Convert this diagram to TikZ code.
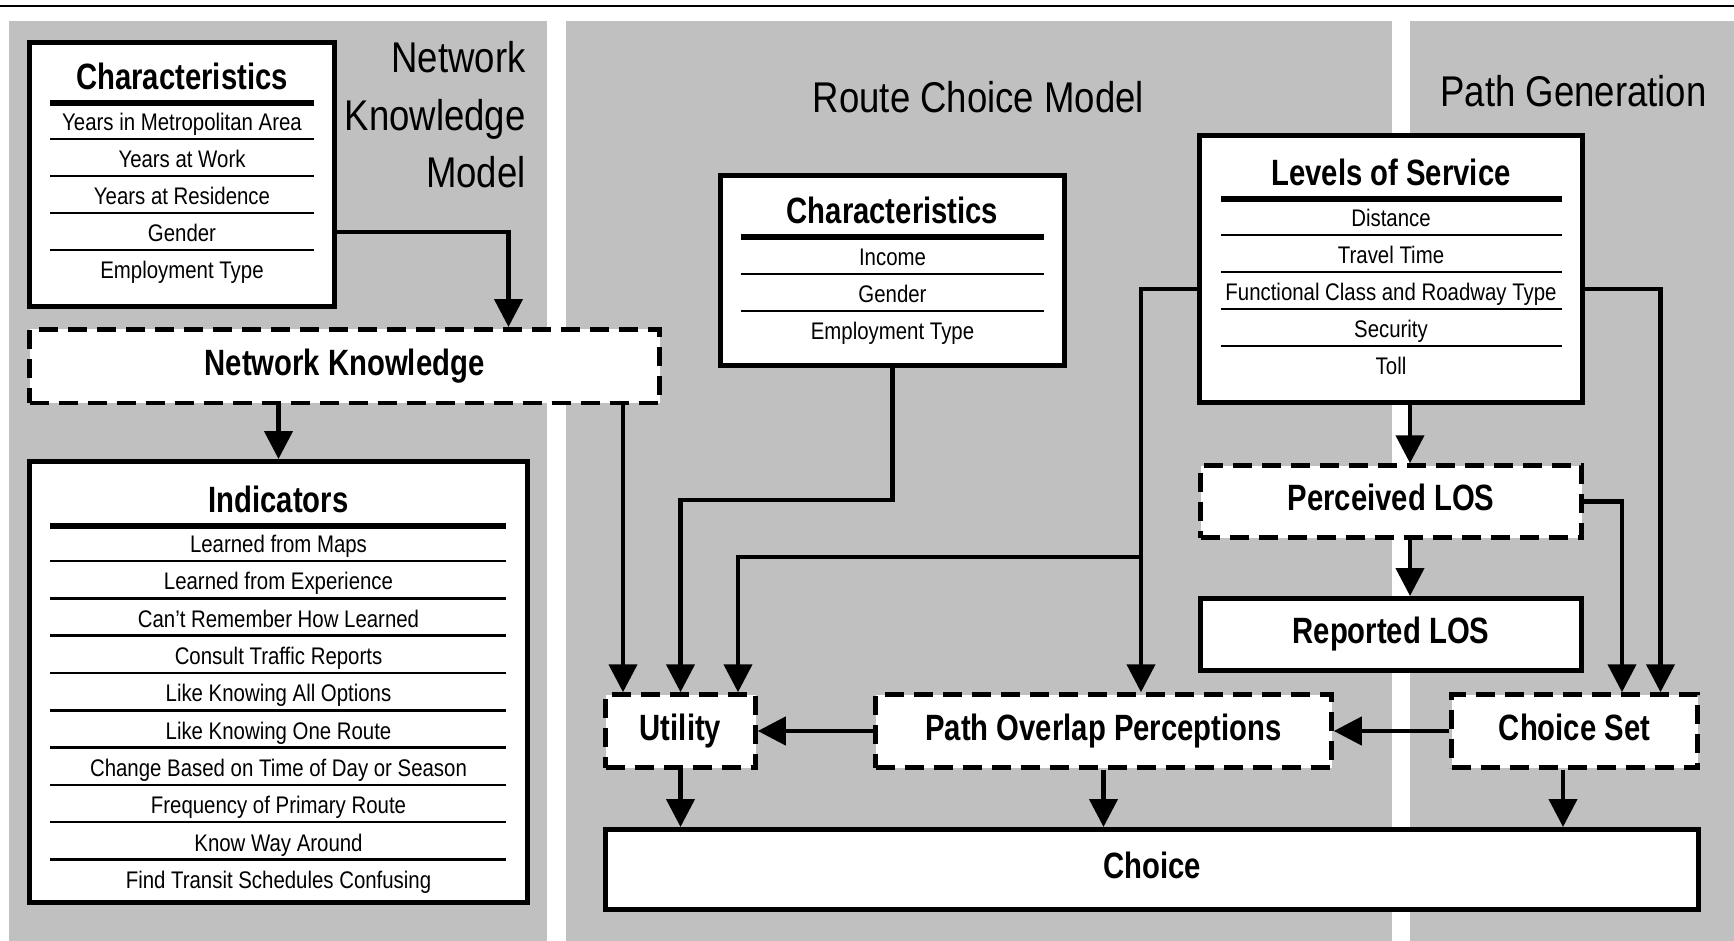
\documentclass[tikz,border=0pt]{standalone}
\usepackage{fontspec}
\setmainfont{Liberation Sans}[UprightFeatures={FakeStretch=0.85},BoldFeatures={FakeStretch=0.8}]
\usetikzlibrary{arrows.meta,calc}
\definecolor{panelgray}{RGB}{192,192,192}

\begin{document}
\begin{tikzpicture}[x=0.5pt,y=-0.5pt,
    panel/.style={fill=panelgray},
    box/.style={draw,line width=2.5pt,fill=white,inner sep=0pt},
    dbox/.style={box,line width=2.25pt,dash pattern=on 9.5pt off 5pt},
    boxlabel/.style={font=\bfseries\fontsize{18.3}{22}\selectfont,text height=13.1pt,text depth=4pt},
    boxtitle/.style={boxlabel,inner sep=0pt,text height=13.1pt,text depth=0pt},
    rowtext/.style={font=\fontsize{12}{14}\selectfont,inner sep=0pt,text height=8.6pt,text depth=0pt},
    bigtitle/.style={font=\fontsize{21.5}{28.75}\selectfont,inner sep=0pt},
    titlerule/.style={line width=3pt},
    rowrule/.style={line width=1.3pt},
    link/.style={line width=2.2pt,-{Triangle[width=14pt,length=14pt]}}]

    \useasboundingbox (0,0) rectangle (1734,941);

    % Background panels
    \fill[panel] (9,21) rectangle (547,941);
    \fill[panel] (566,21) rectangle (1392,941);
    \fill[panel] (1410,21) rectangle (1734,941);
    \draw[line width=1.4pt] (0,6) -- (1734,6);

    % Panel headings
    \node[bigtitle,align=right,anchor=north east] (nkmodel) at (526,41) {Network\\Knowledge\\Model};
    \node[bigtitle,anchor=base] (rcmodel) at (978.5,113) {Route Choice Model};
    \node[bigtitle,anchor=base] (pgen) at (1573.5,107) {Path Generation};

    % Network knowledge model
    \node[box,minimum width=152.5pt,minimum height=132pt] (char1) at (182,174.5) {};
    \node[boxtitle] (char1-t) at (182,76) {Characteristics};
    \draw[titlerule] (50,103) -- (314,103);
    \foreach \txt [count=\i] in {Years in Metropolitan Area,Years at Work,Years at Residence,Gender,Employment Type}
        \node[rowtext] (char1-\i) at (182,{122+37*(\i-1)}) {\txt};
    \foreach \i in {1,...,4}
        \draw[rowrule] (50,{139+37*(\i-1)}) -- (314,{139+37*(\i-1)});

    \node[dbox,boxlabel,minimum width=315pt,minimum height=36.75pt] (nk) at (344.5,366) {Network Knowledge};

    \node[box,minimum width=249pt,minimum height=220.5pt] (ind) at (278.5,682) {};
    \node[boxtitle] (ind-t) at (278.5,499) {Indicators};
    \draw[titlerule] (50,526) -- (506,526);
    \foreach \txt [count=\i] in {Learned from Maps,Learned from Experience,Can’t Remember How Learned,Consult Traffic Reports,Like Knowing All Options,Like Knowing One Route,Change Based on Time of Day or Season,Frequency of Primary Route,Know Way Around,Find Transit Schedules Confusing}
        \node[rowtext] (ind-\i) at (278.5,{544+37.3*(\i-1)}) {\txt};
    \foreach \i in {1,...,9}
        \draw[rowrule] (50,{561+37.3*(\i-1)}) -- (506,{561+37.3*(\i-1)});

    % Route choice model
    \node[box,minimum width=172pt,minimum height=95pt] (char2) at (892.5,270.5) {};
    \node[boxtitle] (char2-t) at (892.5,210) {Characteristics};
    \draw[titlerule] (741,237) -- (1044,237);
    \foreach \txt [count=\i] in {Income,Gender,Employment Type}
        \node[rowtext] (char2-\i) at (892.5,{257+37*(\i-1)}) {\txt};
    \foreach \i in {1,2}
        \draw[rowrule] (741,{274+37*(\i-1)}) -- (1044,{274+37*(\i-1)});

    \node[box,minimum width=191.5pt,minimum height=133.5pt] (los) at (1391,269) {};
    \node[boxtitle] (los-t) at (1391,172) {Levels of Service};
    \draw[titlerule] (1221,199) -- (1562,199);
    \foreach \txt [count=\i] in {Distance,Travel Time,Functional Class and Roadway Type,Security,Toll}
        \node[rowtext] (los-\i) at (1391,{218+37*(\i-1)}) {\txt};
    \foreach \i in {1,...,4}
        \draw[rowrule] (1221,{235+37*(\i-1)}) -- (1562,{235+37*(\i-1)});

    \node[dbox,boxlabel,minimum width=190.5pt,minimum height=36pt] (plos) at (1391,501.5) {Perceived LOS};
    \node[box,boxlabel,minimum width=190.5pt,minimum height=36pt] (rlos) at (1391,634.5) {Reported LOS};

    \node[dbox,boxlabel,minimum width=75pt,minimum height=36.5pt] (util) at (680.5,731) {Utility};
    \node[dbox,boxlabel,minimum width=228pt,minimum height=36.5pt] (povl) at (1103.5,731) {Path Overlap Perceptions};
    \node[dbox,boxlabel,minimum width=123pt,minimum height=36.5pt] (cset) at (1574.5,731) {Choice Set};
    \node[box,boxlabel,minimum width=546.5pt,minimum height=40pt] (choice) at (1152,869.5) {Choice};

    % Connectors
    \coordinate (u1) at ([xshift=-28.75pt]util.north);
    \coordinate (u3) at ([xshift=28.75pt]util.north);
    \coordinate (p1) at ([xshift=18.75pt]povl.north);

    \draw[link] ([yshift=-28.75pt]char1.east) -| ([xshift=82pt]nk.north);
    \draw[link] (ind.north |- nk.south) -- (ind.north);
    \draw[link] (nk.south -| u1) -- (u1);
    \draw[link] (char2.south) -- ++(0,132) -| (util.north);
    \draw[link] ([yshift=-10pt]los.west) -| (p1);
    \draw[link] ($(p1)+(0,-135)$) -| (u3);
    \draw[link] ([xshift=9.5pt]los.south) -- ([xshift=9.5pt]plos.north);
    \draw[link] ([xshift=9.5pt]plos.south) -- ([xshift=9.5pt]rlos.north);
    \draw[link] (plos.east) -| ([xshift=23.75pt]cset.north);
    \draw[link] ([yshift=-10pt]los.east) -| ([xshift=43pt]cset.north);
    \draw[link] (cset.west) -- (povl.east);
    \draw[link] (povl.west) -- (util.east);
    \draw[link] (util.south) -- (util.south |- choice.north);
    \draw[link] (povl.south) -- (povl.south |- choice.north);
    \draw[link] ([xshift=-5.75pt]cset.south) -- ([xshift=-5.75pt]cset.south |- choice.north);
\end{tikzpicture}
\end{document}
